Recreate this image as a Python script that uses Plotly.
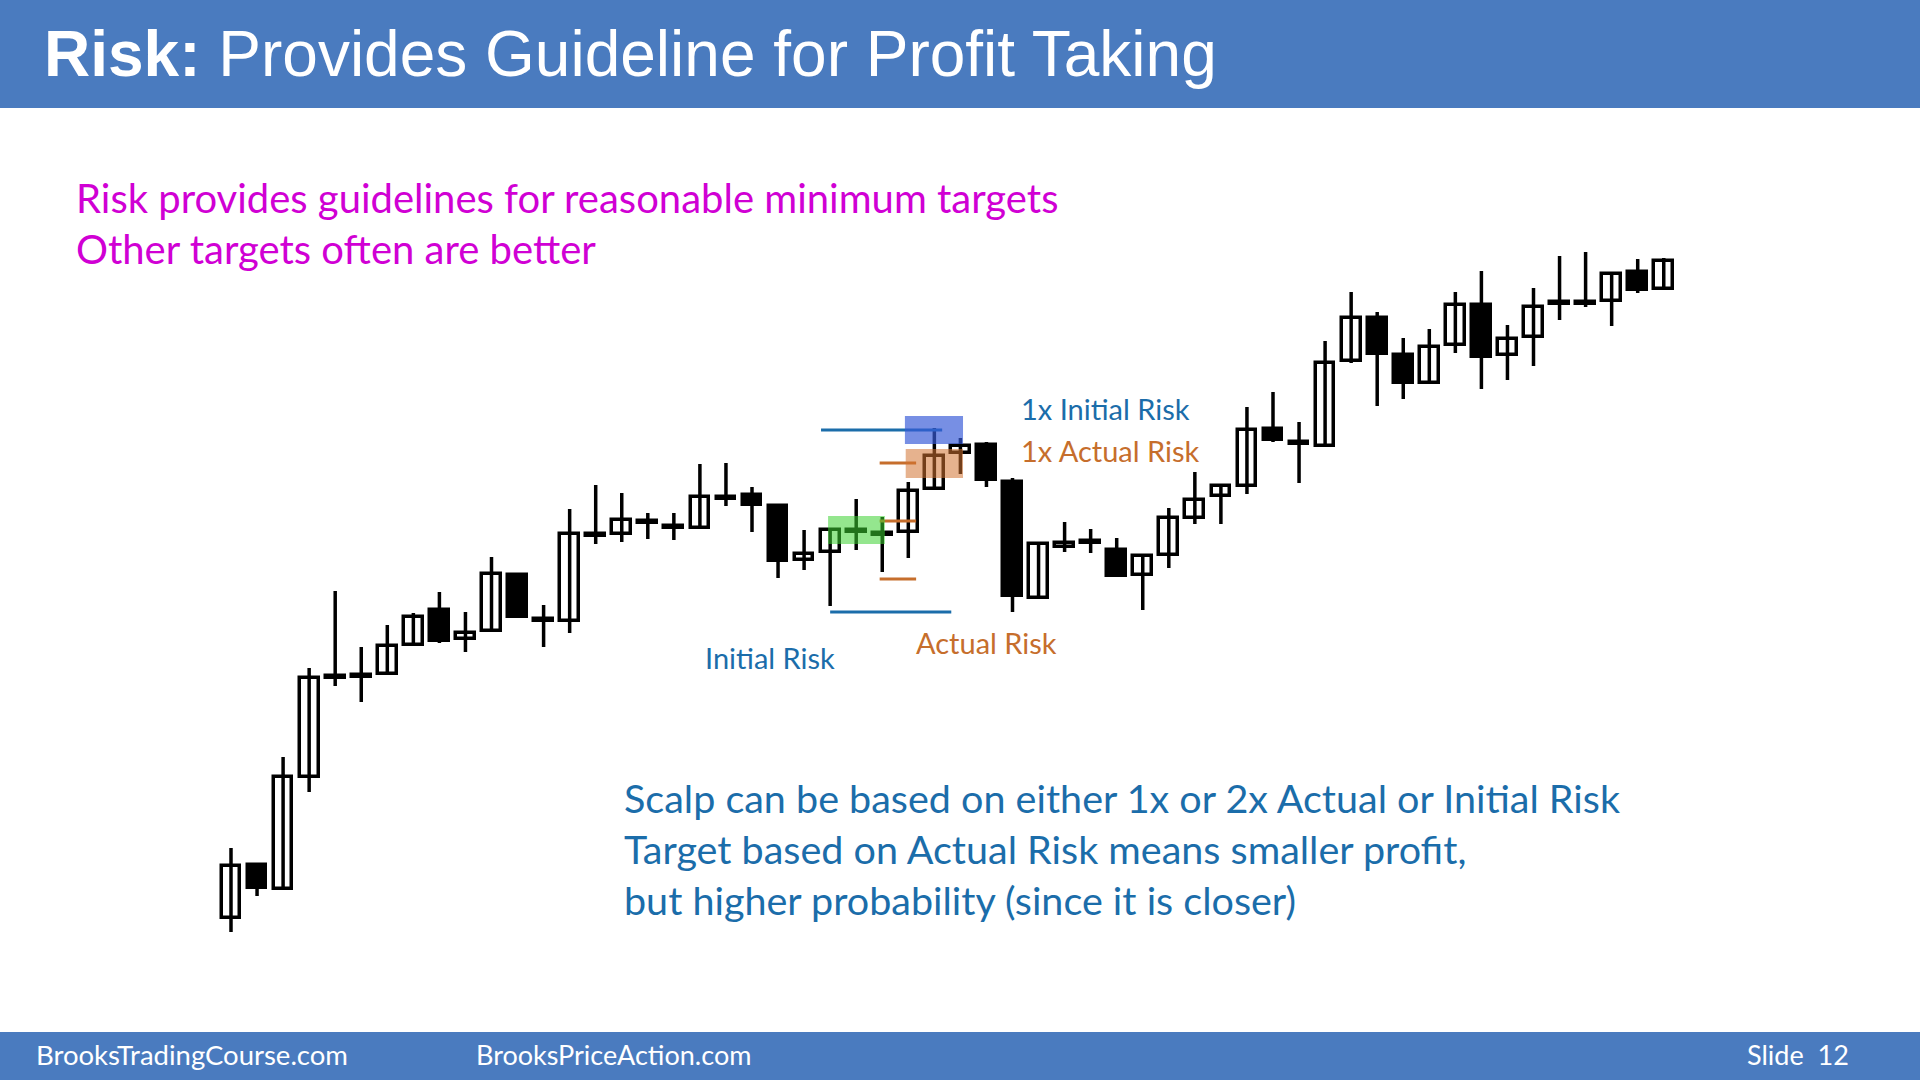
import plotly.graph_objects as go

# ---------------- data ----------------
opens  = [82,135,111,223,323,324,326,355,390,361,369,425,380,379,465,466,478,473,472,502,
          505,494,440,448,469,466,468,511,547,555,518,402,453,458,450,425,445,482,504,514,
          571,557,554,639,682,645,617,655,695,645,663,697,697,699,728,711]
highs  = [152,137,243,332,409,353,375,387,408,388,443,425,395,491,515,507,487,487,536,537,
          513,495,470,470,501,483,518,572,562,558,522,456,478,471,462,446,492,528,516,593,
          608,578,659,708,688,662,671,708,729,675,712,744,748,726,741,742]
lows   = [68,104,111,208,314,298,325,355,357,348,369,382,353,367,456,458,461,460,472,494,
          468,422,430,394,450,428,442,511,526,513,388,402,448,447,424,390,432,476,476,506,
          558,517,553,637,594,601,616,647,611,620,634,680,693,674,707,711]
closes = [134,112,223,322,323,324,354,383,359,367,426,383,380,466,465,480,478,473,503,502,
          495,439,446,470,469,466,509,544,554,520,404,456,457,458,424,444,482,500,514,570,
          560,557,637,682,646,617,653,695,643,661,693,697,697,726,710,739]

entry_price = 479
initial_stop = 388
actual_stop = 421

title_bold = "Risk:"
title_rest = " Provides Guideline for Profit Taking"
top_lines = ["Risk provides guidelines for reasonable minimum targets",
             "Other targets often are better"]
bottom_lines = ["Scalp can be based on either 1x or 2x Actual or Initial Risk",
                "Target based on Actual Risk means smaller profit,",
                "but higher probability (since it is closer)"]
footer_left = "BrooksTradingCourse.com"
footer_mid = "BrooksPriceAction.com"
footer_right = "Slide  12"

# ---------------- derived ----------------
idx = list(range(len(opens)))
initial_target = entry_price + (entry_price - initial_stop)
actual_target = entry_price + (entry_price - actual_stop)

W, H = 1920, 1080
BLUE_HDR = "#4A7BBF"
TXT_BLUE = "#1B6DAA"
TXT_ORANGE = "#C66E2C"
PINK = "#D000D4"
BODY_FONT = "Lato, Carlito, Calibri, sans-serif"

fig = go.Figure()

# wicks
wx, wy = [], []
for i, h, l in zip(idx, highs, lows):
    wx += [i, i, None]
    wy += [l, h, None]
fig.add_trace(go.Scatter(x=wx, y=wy, mode="lines",
                         line=dict(color="black", width=3.5), hoverinfo="skip",
                         showlegend=False))

# bodies
bases, heights, fills = [], [], []
min_h = 2.0
for o, c in zip(opens, closes):
    lo, hi = min(o, c), max(o, c)
    if hi - lo < min_h:
        mid = (hi + lo) / 2
        lo, hi = mid - min_h / 2, mid + min_h / 2
    bases.append(lo)
    heights.append(hi - lo)
    fills.append("white" if c > o else "black")
fig.add_trace(go.Bar(x=idx, y=heights, base=bases, width=0.72,
                     marker=dict(color=fills, line=dict(color="black", width=3.5)),
                     showlegend=False, hoverinfo="skip"))

shapes = []
# header / footer bands
shapes.append(dict(type="rect", xref="paper", yref="paper", x0=0, x1=1,
                   y0=1 - 108 / H, y1=1, fillcolor=BLUE_HDR, line_width=0, layer="below"))
shapes.append(dict(type="rect", xref="paper", yref="paper", x0=0, x1=1,
                   y0=0, y1=1 - 1032 / H, fillcolor=BLUE_HDR, line_width=0, layer="below"))

# risk lines
shapes.append(dict(type="line", xref="x", yref="y", x0=22.65, x1=27.3,
                   y0=initial_target, y1=initial_target, line=dict(color=TXT_BLUE, width=3)))
shapes.append(dict(type="line", xref="x", yref="y", x0=23.0, x1=27.65,
                   y0=initial_stop, y1=initial_stop, line=dict(color=TXT_BLUE, width=3)))
for lvl in (actual_target, entry_price, actual_stop):
    shapes.append(dict(type="line", xref="x", yref="y", x0=24.9, x1=26.3,
                       y0=lvl, y1=lvl, line=dict(color=TXT_ORANGE, width=3)))

# highlight boxes
shapes.append(dict(type="rect", xref="x", yref="y", x0=22.92, x1=25.1,
                   y0=entry_price - 23, y1=entry_price + 5,
                   fillcolor="rgba(60,210,50,0.55)", line_width=0, layer="above"))
shapes.append(dict(type="rect", xref="x", yref="y", x0=25.87, x1=28.1,
                   y0=initial_target - 14, y1=initial_target + 14,
                   fillcolor="rgba(55,90,215,0.68)", line_width=0, layer="above"))
shapes.append(dict(type="rect", xref="x", yref="y", x0=25.9, x1=28.1,
                   y0=actual_target - 15, y1=actual_target + 14,
                   fillcolor="rgba(210,115,50,0.55)", line_width=0, layer="above"))

ann = []
def txt(text, x, y, size, color, family=BODY_FONT, xanchor="left"):
    ann.append(dict(text=text, x=x / W, y=1 - y / H, xref="paper", yref="paper",
                    xanchor=xanchor, yanchor="middle", showarrow=False,
                    font=dict(size=size, color=color, family=family)))

txt(f"<b>{title_bold}</b>{title_rest}", 42, 54, 64, "white",
    family="Liberation Sans, Arial, sans-serif")
for k, line in enumerate(top_lines):
    txt(line, 74, 198 + k * 51, 40, PINK)
for k, line in enumerate(bottom_lines):
    txt(line, 622, 797 + k * 51, 39.5, TXT_BLUE)
txt("1x Initial Risk", 1019, 408, 29, TXT_BLUE)
txt("1x Actual Risk", 1019, 451, 29, TXT_ORANGE)
txt("Initial Risk", 703, 657, 29, TXT_BLUE)
txt("Actual Risk", 914, 642, 29, TXT_ORANGE)
txt(footer_left, 34, 1054, 27.5, "white")
txt(footer_mid, 474, 1054, 27, "white")
txt(footer_right, 1851, 1054, 27, "white", xanchor="right")

SP = 26.05
fig.update_layout(
    width=W, height=H, margin=dict(l=0, r=0, t=0, b=0),
    paper_bgcolor="white", plot_bgcolor="white",
    xaxis=dict(range=[-231 / SP, (W - 231) / SP], visible=False, fixedrange=True),
    yaxis=dict(range=[1000 - H, 1000], visible=False, fixedrange=True),
    shapes=shapes, annotations=ann, bargap=0, showlegend=False,
)
fig.write_html("out.html", config={"displayModeBar": False},
               post_script="document.body.style.margin='0px';document.body.style.overflow='hidden';")
